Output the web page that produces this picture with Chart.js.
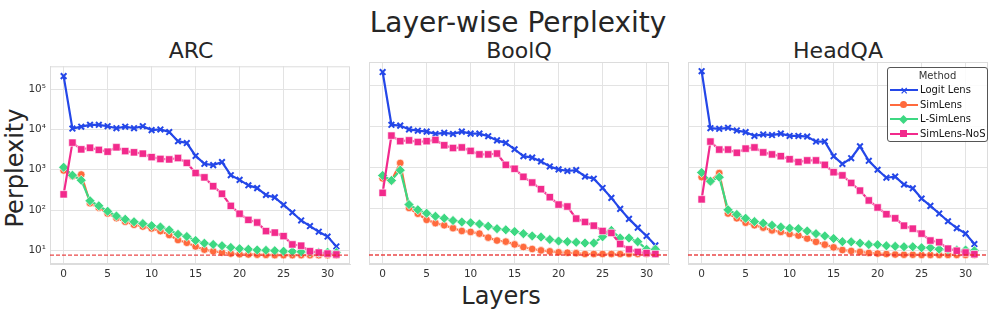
<!DOCTYPE html>
<html>
<head>
<meta charset="utf-8">
<script src="https://cdn.jsdelivr.net/npm/chart.js@4/dist/chart.umd.min.js"></script>
<style>
  body { margin: 0; background: #fff; font-family: 'DejaVu Sans', sans-serif; color: #262626; }
  #page { position: relative; width: 994px; height: 313px; overflow: hidden; }
  canvas { position: absolute; }
  .txt { position: absolute; white-space: nowrap; transform: translate(-50%, -50%); }
  #legend { position: absolute; left: 887px; top: 67px; width: 99px; height: 73px;
    border: 1px solid #555; border-radius: 3px; background: rgba(255,255,255,0.85);
    font-size: 10px; color: #111; white-space: nowrap; }
  #legend .ttl { text-align: center; height: 14px; line-height: 14px; margin-top: 1px; color: #333; }
  #legend .row { position: relative; height: 14.6px; }
  #legend .ln { position: absolute; left: 2px; top: 6px; width: 28px; height: 2px; }
  #legend .mk { position: absolute; left: 12px; top: 3.5px; width: 7px; height: 7px; }
  #legend .lab { position: absolute; left: 32px; top: 0px; line-height: 14px; }
</style>
</head>
<body>
<div id="page">
  <div class="txt" style="left:518px; top:22px; font-size:28px;">Layer-wise Perplexity</div>
  <div class="txt" style="left:15px; top:168px; font-size:24px; transform: translate(-50%,-50%) rotate(-90deg);">Perplexity</div>
  <div class="txt" style="left:501px; top:296px; font-size:24px;">Layers</div>
  <div class="txt" style="left:191px; top:50px; font-size:22px;">ARC</div>
  <div class="txt" style="left:519px; top:50px; font-size:22px;">BoolQ</div>
  <div class="txt" style="left:838px; top:50px; font-size:22px;">HeadQA</div>
  <canvas id="c0" width="356" height="228" style="left:0px; top:56px;"></canvas>
  <canvas id="c1" width="356" height="228" style="left:319px; top:56px;"></canvas>
  <canvas id="c2" width="356" height="228" style="left:638px; top:56px;"></canvas>
  <div id="legend"></div>
</div>
<script>
// layers on the x axis
const layers = [0,1,2,3,4,5,6,7,8,9,10,11,12,13,14,15,16,17,18,19,20,21,22,23,24,25,26,27,28,29,30,31];
const xTicks = [0, 5, 10, 15, 20, 25, 30];
const yTicks = [10, 100, 1000, 10000, 100000];
const baseline = [7.57];

const methods = ['Logit Lens', 'SimLens', 'L-SimLens', 'SimLens-NoS'];
const tasks = ['ARC', 'BoolQ', 'HeadQA'];

// ARC
const arcLogit = [210000,10500,11700,13000,13000,12000,10700,11700,10700,12000,9600,10000,8600,5100,4600,2200,1400,1300,1550,730,560,410,350,236,206,134,87,55,40,29,22,12.5];
const arcSim = [960,690,760,148,114,82,63,51,43,39,35,30,24,18,15.4,12.5,10.4,9.5,8.8,8.3,8,7.9,7.8,7.7,7.6,7.6,7.6,7.6,7.6,7.6,7.6,7.6];
const arcLSim = [1150,730,550,170,127,93,71,59,51,46,41,38,32,25,22,17.5,15,14,13,11.8,11,10.6,10.2,10,9.8,9.5,9.4,9.2,9,8.8,9,8.8];
const arcNoS = [245,4700,3200,3500,3100,2800,3600,2900,2700,2500,2050,1850,1800,1950,1480,830,645,390,253,127,81,57,49,30,27.5,22.5,14,13,9.5,8.8,8.3,7.9];

// BoolQ
const boolqLogit = [210000,11000,10500,8500,7900,7500,6600,7000,6600,7500,6700,6700,5800,4600,4000,2800,1900,1750,1420,1070,910,830,870,610,540,322,185,100,57,35,22,13];
const boolqSim = [550,480,1300,105,76,54,45,40,34,29,27.5,25,20,17,16,13.7,11.8,10.6,9.8,9.3,8.8,8.6,8.4,8,8,8,8,8,8,8,8,8];
const boolqLSim = [645,490,870,127,95,78,66,59,52,48,46,43,38,33,31,28,25,22,20.6,18,16.5,16,15.4,14.8,14.8,21,30,19.5,19.5,16,10.4,10.4];
const boolqNoS = [245,6000,4400,4600,4200,4400,4700,3500,3000,3100,2550,2100,2100,2200,1170,940,600,435,300,192,127,114,58,48,39,29,26,14,10.4,9,8.4,8];

// HeadQA
const headqaLogit = [220000,9100,8800,9300,8000,7300,5900,6400,6200,6700,5900,5900,5700,4300,4300,1900,1230,1700,3300,1470,890,570,605,390,316,178,118,77,50,34,25,14];
const headqaSim = [590,470,740,77,59,46,40,35,30,27.5,24.5,22.5,19,15.8,13.5,11.6,10,9.5,9,8.5,8.2,8,7.8,7.7,7.7,7.6,7.6,7.6,7.6,7.6,7.6,7.6];
const headqaLSim = [760,470,585,95,73,59,49,45,40,36,34,33,29,25,22,19,16,15.8,14.7,13.6,13.5,12.7,12.3,12,12,11.4,11.4,10.5,10.3,10,10,9.6];
const headqaNoS = [170,4300,2750,2750,2300,2900,3100,2350,2100,1900,1600,1370,1500,1500,1170,775,650,425,277,160,108,74,59,39,33,25,17,15.5,10.8,9.6,8.7,7.9];

const seriesByTask = [
  [arcLogit, arcSim, arcLSim, arcNoS],
  [boolqLogit, boolqSim, boolqLSim, boolqNoS],
  [headqaLogit, headqaSim, headqaLSim, headqaNoS]
];

const colors = ['#2447e8', '#ff6a3d', '#3dd882', '#f22a8c'];
const pointStyles = ['crossRot', 'circle', 'rectRot', 'rect'];
const pointRadius = [4, 3.8, 5, 5.2];
const orders = [4, 3, 2, 1];

const X_MIN = -1.55, X_MAX = 32.55;
const Y_MIN = 4.58, Y_MAX = 368000;

const sup = { '0': '\u2070', '1': '\u00b9', '2': '\u00b2', '3': '\u00b3', '4': '\u2074', '5': '\u2075' };

// light grey box round each panel, like the seaborn frame
const framePlugin = {
  id: 'frame',
  beforeDatasetsDraw(chart) {
    const a = chart.chartArea, ctx = chart.ctx;
    ctx.save();
    ctx.strokeStyle = '#dcdcdc';
    ctx.lineWidth = 1;
    ctx.strokeRect(a.left + 0.5, a.top + 0.5, a.right - a.left - 1, a.bottom - a.top - 1);
    ctx.restore();
  }
};

function makeChart(idx) {
  const datasets = methods.map((name, m) => ({
    label: name,
    data: layers.map((l, i) => ({ x: l, y: seriesByTask[idx][m][i] })),
    borderColor: colors[m],
    backgroundColor: colors[m],
    borderWidth: 2.2,
    pointStyle: pointStyles[m],
    pointRadius: pointRadius[m],
    pointBackgroundColor: colors[m],
    pointBorderColor: m === 0 ? colors[m] : 'rgba(255,255,255,0.8)',
    pointBorderWidth: m === 0 ? 2 : 0.8,
    order: orders[m],
    tension: 0
  }));
  datasets.push({
    label: 'baseline',
    data: [{ x: X_MIN, y: baseline[0] }, { x: X_MAX, y: baseline[0] }],
    borderColor: 'rgba(230,40,40,0.85)',
    borderWidth: 1.3,
    borderDash: [4, 2],
    pointRadius: 0,
    order: 0
  });

  new Chart(document.getElementById('c' + idx).getContext('2d'), {
    type: 'line',
    data: { datasets: datasets },
    plugins: [framePlugin],
    options: {
      responsive: false,
      animation: false,
      layout: { padding: { top: 5, right: 6, left: 0, bottom: 0 } },
      plugins: { legend: { display: false }, tooltip: { enabled: false } },
      scales: {
        x: {
          type: 'linear',
          min: X_MIN,
          max: X_MAX,
          afterBuildTicks: s => { s.ticks = xTicks.map(v => ({ value: v })); },
          afterFit: s => { s.height = 20; },
          grid: { color: '#e3e3e3', drawTicks: false },
          border: { color: '#dcdcdc' },
          ticks: { padding: 4, color: '#333', font: { family: 'DejaVu Sans', size: 10.5 } }
        },
        y: {
          type: 'logarithmic',
          min: Y_MIN,
          max: Y_MAX,
          afterBuildTicks: s => { s.ticks = yTicks.map(v => ({ value: v })); },
          afterFit: s => { s.width = 50; },
          grid: { color: '#e3e3e3', drawTicks: false },
          border: { color: '#dcdcdc' },
          ticks: {
            display: idx === 0,
            padding: 4,
            color: '#333',
            font: { family: 'DejaVu Sans', size: 10.5 },
            callback: v => '10' + String(Math.round(Math.log10(v))).split('').map(d => sup[d]).join('')
          }
        }
      }
    }
  });
}

tasks.forEach((t, i) => makeChart(i));

// legend inside HeadQA panel
const legend = document.getElementById('legend');
legend.innerHTML = '<div class="ttl">Method</div>' + methods.map((name, m) => {
  let mk = '';
  if (m === 0) {
    mk = '<div class="mk" style="color:' + colors[m] + ';font-size:10px;line-height:7px;text-align:center;font-weight:bold;">\u00d7</div>';
  } else if (m === 1) {
    mk = '<div class="mk" style="background:' + colors[m] + ';border-radius:50%;"></div>';
  } else if (m === 2) {
    mk = '<div class="mk" style="background:' + colors[m] + ';transform:rotate(45deg) scale(0.9);"></div>';
  } else {
    mk = '<div class="mk" style="background:' + colors[m] + ';"></div>';
  }
  return '<div class="row"><div class="ln" style="background:' + colors[m] + ';"></div>' + mk +
    '<div class="lab">' + name + '</div></div>';
}).join('');
</script>
</body>
</html>
